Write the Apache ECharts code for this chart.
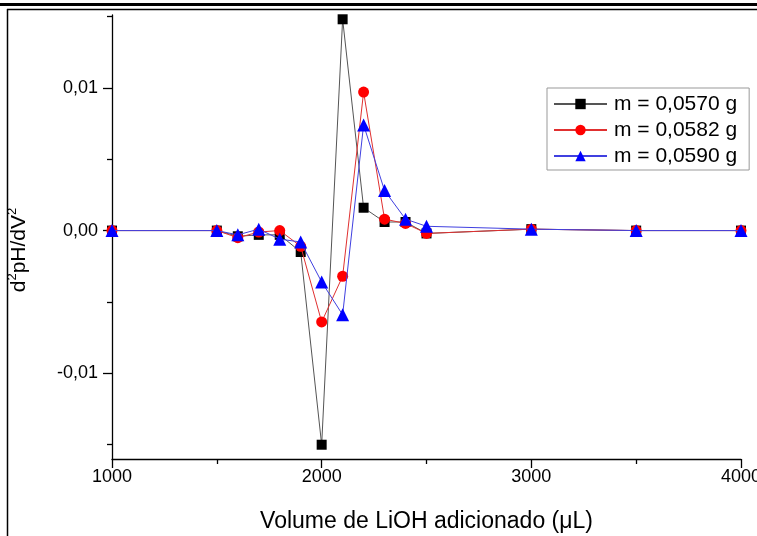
<!DOCTYPE html>
<html><head><meta charset="utf-8">
<script src="https://cdn.jsdelivr.net/npm/echarts@6/dist/echarts.min.js"></script>
<style>html,body{margin:0;padding:0;background:#fff}#c{width:757px;height:536px}</style>
</head><body><div id="c"></div>
<script>
const volumes = [1000,1500,1600,1700,1800,1900,2000,2100,2200,2300,2400,2500,3000,3500,4000];
const seriesNames = ['m = 0,0570 g','m = 0,0582 g','m = 0,0590 g'];
const m0570 = [0, 0, -0.0004, -0.0003, -0.0003, -0.0015, -0.0150, 0.0148, 0.0016, 0.0006, 0.0006, -0.0002, 0.0001, 0, 0];
const m0582 = [0, 0, -0.0005, -0.0001, 0.0000, -0.0011, -0.0064, -0.0032, 0.0097, 0.0008, 0.0005, -0.0002, 0.0001, 0, 0];
const m0590 = [0, 0, -0.0003, 0.0001, -0.0006, -0.0008, -0.0036, -0.0059, 0.0074, 0.0028, 0.0008, 0.0003, 0.0001, 0, 0];
const yMajorTicks = [-0.01, 0, 0.01];
const yMinorTicks = [-0.015, -0.005, 0.005, 0.015];
const xTicks = [1000, 2000, 3000, 4000];

const font = 'Liberation Sans, Arial, sans-serif';
const chart = echarts.init(document.getElementById('c'), null, {renderer: 'canvas'});
const pair = arr => volumes.map((v, i) => [v, arr[i]]);
const yFmt = v => v.toFixed(2).replace('.', ',');

chart.setOption({
  animation: false,
  backgroundColor: '#fff',
  grid: {left: 112, right: 16, top: 15, bottom: 77, outerBoundsMode: 'none', containLabel: false},
  xAxis: {
    type: 'value', min: 1000, max: 4000, interval: 1000,
    name: 'Volume de LiOH adicionado (μL)', nameLocation: 'middle', nameGap: 63,
    nameTextStyle: {fontFamily: font, fontSize: 23, color: '#000', verticalAlign: 'middle'},
    axisLine: {show: true, onZero: false, lineStyle: {color: '#000', width: 1.3}},
    axisTick: {show: true, inside: false, length: 9, lineStyle: {color: '#000', width: 1.3}},
    minorTick: {show: true, splitNumber: 2, length: 5, lineStyle: {color: '#000', width: 1.3}},
    splitLine: {show: false}, minorSplitLine: {show: false},
    axisLabel: {fontFamily: font, fontSize: 18, color: '#000', margin: 9, showMaxLabel: true, showMinLabel: true,
      customValues: xTicks, formatter: v => String(v)}
  },
  yAxis: [{
    type: 'value', min: -0.0160, max: 0.0151,
    name: '{n|d}{s|2}{n|pH/dV}{s|2}', nameLocation: 'middle', nameGap: 82, nameRotate: 90,
    nameTextStyle: {fontFamily: font, color: '#000', padding: [0, 26, 0, 0], rich: {
      n: {fontFamily: font, fontSize: 21, color: '#000', verticalAlign: 'bottom', lineHeight: 24},
      s: {fontFamily: font, fontSize: 13, color: '#000', verticalAlign: 'top', lineHeight: 24, padding: [0,0,9,0]}
    }},
    axisLine: {show: true, onZero: false, lineStyle: {color: '#000', width: 1.3}},
    axisTick: {show: true, inside: false, length: 9, customValues: yMajorTicks, lineStyle: {color: '#000', width: 1.3}},
    splitLine: {show: false},
    axisLabel: {fontFamily: font, fontSize: 18, color: '#000', margin: 14, customValues: yMajorTicks, formatter: yFmt}
  }, {
    type: 'value', min: -0.0160, max: 0.0151, position: 'left',
    axisLine: {show: false},
    axisTick: {show: true, inside: false, length: 5, customValues: yMinorTicks, lineStyle: {color: '#000', width: 1.3}},
    splitLine: {show: false},
    axisLabel: {show: false, customValues: yMinorTicks}
  }],
  legend: {
    orient: 'vertical', left: 547, top: 88,
    borderColor: '#999', borderWidth: 1,
    padding: [5, 12, 3, 6], itemGap: 4, itemWidth: 53, itemHeight: 13,
    textStyle: {fontFamily: font, fontSize: 21, color: '#000', lineHeight: 22, padding: [0,0,0,2]},
    data: seriesNames
  },
  graphic: [
    {type: 'rect', shape: {x: 0, y: 3, width: 757, height: 3}, style: {fill: '#000'}, silent: true},
    {type: 'line', shape: {x1: 7, y1: 9.5, x2: 757, y2: 9.5}, style: {stroke: '#000', lineWidth: 1.5}, silent: true},
    {type: 'line', shape: {x1: 7.5, y1: 9, x2: 7.5, y2: 536}, style: {stroke: '#000', lineWidth: 1.5}, silent: true}
  ],
  series: [
    {name: seriesNames[0], type: 'line', data: pair(m0570), symbol: 'rect', symbolSize: 10,
      itemStyle: {color: '#000'}, lineStyle: {color: '#555', width: 1}, z: 2},
    {name: seriesNames[1], type: 'line', data: pair(m0582), symbol: 'circle', symbolSize: 11,
      itemStyle: {color: '#ff0000'}, lineStyle: {color: '#e03030', width: 1}, z: 3},
    {name: seriesNames[2], type: 'line', data: pair(m0590), symbol: 'triangle', symbolSize: 13,
      itemStyle: {color: '#0000ff'}, lineStyle: {color: '#4040e0', width: 1}, z: 4}
  ]
});
</script></body></html>
